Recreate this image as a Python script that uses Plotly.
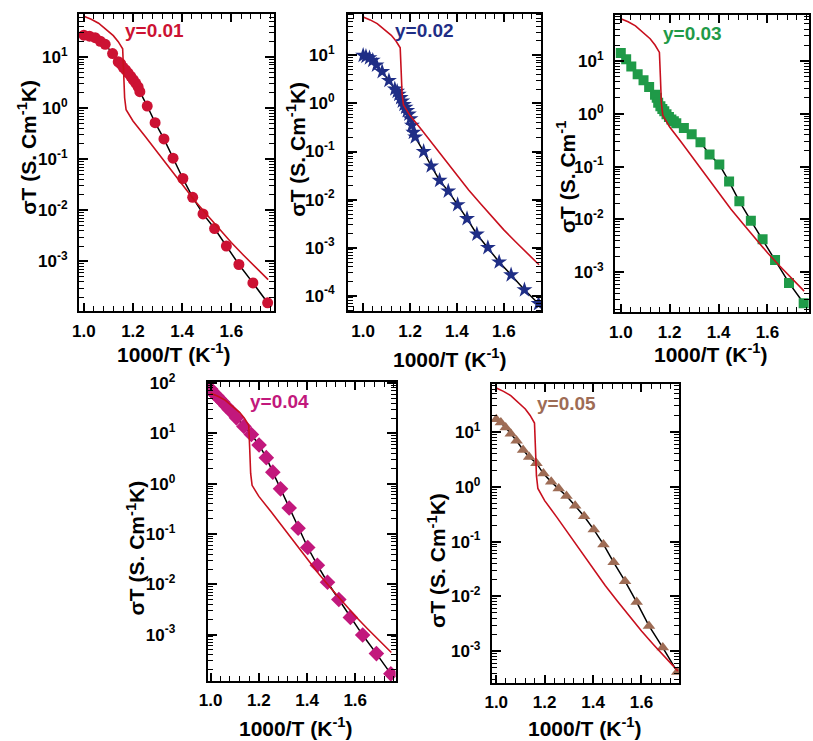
import plotly.graph_objects as go

W, H = 813, 741

# ---------------- data ----------------
# model curve (red) shared by all panels
red_x = [1.000, 1.030, 1.060, 1.090, 1.120, 1.140, 1.158, 1.162, 1.166, 1.172, 1.200, 1.250,
         1.300, 1.350, 1.400, 1.450, 1.500, 1.550, 1.600, 1.650, 1.700, 1.750]
red_y = [63, 55, 46, 35.5, 26.3, 20.0, 14.5, 5.0, 1.6, 0.93, 0.56, 0.28,
         0.135, 0.066, 0.032, 0.0158, 0.0083, 0.0044, 0.00234, 0.00132, 0.00076, 0.00044]

# y = 0.01
x1 = [1.000, 1.023, 1.046, 1.067, 1.087, 1.117, 1.140, 1.150, 1.160, 1.170, 1.180, 1.191, 1.201, 1.211,
      1.221, 1.228, 1.258, 1.290, 1.326, 1.363, 1.403, 1.443, 1.485, 1.532, 1.580, 1.631, 1.688, 1.748]
y1 = [26.9, 25.7, 24.0, 20.4, 17.8, 11.7, 8.1, 7.4, 6.3, 5.6, 4.9, 4.2, 3.6, 3.1,
      2.6, 2.1, 1.10, 0.52, 0.25, 0.105, 0.042, 0.018, 0.0085, 0.0044, 0.0020, 0.00087, 0.00038, 0.000155]

# y = 0.02
x2 = [1.000, 1.012, 1.027, 1.041, 1.057, 1.081, 1.110, 1.135, 1.145, 1.152, 1.160, 1.167, 1.174, 1.181,
      1.188, 1.195, 1.202, 1.208, 1.214, 1.222, 1.258, 1.290, 1.326, 1.363, 1.403, 1.443, 1.485, 1.532,
      1.580, 1.631, 1.688, 1.748]
y2 = [10.0, 9.5, 8.9, 7.9, 6.3, 4.6, 3.0, 2.0, 1.78, 1.55, 1.32, 1.12, 0.95, 0.83,
      0.71, 0.60, 0.48, 0.35, 0.25, 0.20, 0.10, 0.050, 0.025, 0.015, 0.0078, 0.0040, 0.0019, 0.0010,
      0.00050, 0.00027, 0.000132, 0.000068]

# y = 0.03
x3 = [1.000, 1.022, 1.043, 1.069, 1.093, 1.116, 1.140, 1.147, 1.153, 1.162, 1.170, 1.178, 1.187, 1.197,
      1.207, 1.217, 1.227, 1.258, 1.290, 1.326, 1.363, 1.403, 1.443, 1.485, 1.532, 1.580, 1.631, 1.688,
      1.748]
y3 = [14.1, 10.7, 7.8, 5.6, 4.3, 3.2, 2.3, 2.0, 1.62, 1.38, 1.23, 1.12, 0.98, 0.87,
      0.78, 0.72, 0.66, 0.54, 0.41, 0.29, 0.17, 0.11, 0.052, 0.022, 0.0095, 0.0042, 0.0017, 0.00063,
      0.00026]

# y = 0.04
x4 = [1.000, 1.005, 1.014, 1.025, 1.036, 1.050, 1.064, 1.077, 1.091, 1.107, 1.138, 1.169, 1.201,
      1.231, 1.258, 1.290, 1.326, 1.363, 1.403, 1.443, 1.485, 1.532, 1.580, 1.631, 1.688, 1.748]
y4 = [76, 69, 63, 56, 49, 42, 35, 30, 26, 20.4, 13.8, 9.5, 5.9,
      3.3, 1.70, 0.79, 0.33, 0.13, 0.054, 0.024, 0.011, 0.0050, 0.0022, 0.00098, 0.00042, 0.000166]

# y = 0.05
x5 = [1.000, 1.019, 1.039, 1.060, 1.084, 1.111, 1.136, 1.166, 1.195, 1.227, 1.258, 1.290, 1.326,
      1.363, 1.403, 1.443, 1.485, 1.532, 1.580, 1.631, 1.688, 1.748]
y5 = [17.0, 14.8, 12.0, 9.3, 6.9, 4.7, 3.5, 2.7, 1.74, 1.23, 0.93, 0.68, 0.45,
      0.29, 0.166, 0.089, 0.042, 0.019, 0.0079, 0.0029, 0.00117, 0.00042]

labels = ["y=0.01", "y=0.02", "y=0.03", "y=0.04", "y=0.05"]
x_tick_vals = [1.0, 1.2, 1.4, 1.6]
x_tick_text = ["1.0", "1.2", "1.4", "1.6"]
y_tick_exps = [-4, -3, -2, -1, 0, 1, 2]

# ---------------- styling / layout ----------------
FONT = "Liberation Sans, Arial, sans-serif"
colors = ["#CC1233", "#1F2E86", "#1F9A48", "#C2187C", "#9E6C55"]
symbols = ["circle", "star", "square", "diamond", "triangle-up"]
msizes = [11, 12, 10, 12, 11]
red_col = "#C8101E"

# frames in reference pixels: (left, right, top, bottom)
frames = [(70.7, 267.5, 2.7, 305.0),
          (342.7, 538.3, 2.7, 305.0),
          (612.7, 809.0, 4.0, 306.0),
          (201.0, 391.0, 376.7, 680.0),
          (488.3, 678.0, 378.3, 681.7)]
xranges = [[0.980, 1.772], [0.935, 1.760], [0.976, 1.770], [0.988, 1.768], [0.982, 1.757]]
yranges = [[-3.98, 1.85], [-4.33, 1.87], [-3.76, 1.87], [-3.92, 2.02], [-3.57, 1.88]]
ylab_standoff = [6, 8, 6, 27, 6]
lab_pos = [(0.39, 0.943), (0.395, 0.943), (0.40, 0.936), (0.38, 0.934), (0.40, 0.934)]
ytitle_pos = [(18, 138), (290, 140), (563, 168), (128, 545), (432, 558)]
ytitle_txt = ["σT (S. Cm<sup>-1</sup>K)", "σT (S. Cm<sup>-1</sup>K)", "σT (S. Cm<sup>-1</sup>",
              "σT (S. Cm<sup>-1</sup>K)", "σT (S. Cm<sup>-1</sup>K)"]
xtitle_pos = [(166, 347), (445, 352), (709, 347), (290, 727), (582, 727)]


def px_x(p):
    return min(1.0, max(0.0, p / W))


def px_y(p):
    return min(1.0, max(0.0, 1 - p / H))


xs = [x1, x2, x3, x4, x5]
ys = [y1, y2, y3, y4, y5]

fig = go.Figure()
x_minor = [round(0.92 + 0.04 * k, 2) for k in range(25)]
x_minor = [v for v in x_minor if all(abs(v - t) > 1e-6 for t in x_tick_vals)]
y_major = [10.0 ** e for e in y_tick_exps]
y_text = ["10<sup>%d</sup>" % e for e in y_tick_exps]
y_minor = [k * 10.0 ** e for e in range(-5, 3) for k in range(2, 10)]

annotations = []
for i in range(5):
    n = i + 1
    xa = "x" if n == 1 else "x%d" % n
    ya = "y" if n == 1 else "y%d" % n
    # black fit line
    fig.add_trace(go.Scatter(x=xs[i], y=ys[i], mode="lines", line=dict(color="black", width=1.5),
                             xaxis=xa, yaxis=ya, showlegend=False, hoverinfo="skip"))
    # data markers
    fig.add_trace(go.Scatter(x=xs[i], y=ys[i], mode="markers",
                             marker=dict(symbol=symbols[i], size=msizes[i], color=colors[i],
                                         line=dict(width=0)),
                             xaxis=xa, yaxis=ya, showlegend=False))
    # model line
    fig.add_trace(go.Scatter(x=red_x, y=red_y, mode="lines", line=dict(color=red_col, width=1.6),
                             xaxis=xa, yaxis=ya, showlegend=False))

    l, r, t, b = frames[i]
    xdom = [px_x(l), px_x(r)]
    ydom = [px_y(b), px_y(t)]
    axfont = dict(family=FONT, size=17, color="black", weight="bold")
    xkey = "xaxis" if n == 1 else "xaxis%d" % n
    ykey = "yaxis" if n == 1 else "yaxis%d" % n
    fig.update_layout(**{
        xkey: dict(domain=xdom, range=xranges[i], anchor=ya, tickmode="array",
                   tickvals=x_tick_vals, ticktext=x_tick_text, ticks="inside", ticklen=8,
                   tickwidth=1.5, tickcolor="black", showline=True, linecolor="black",
                   linewidth=2, mirror="allticks", showgrid=False, zeroline=False,
                   tickfont=axfont, ticklabelstandoff=3,
                   minor=dict(tickvals=x_minor, ticks="inside", ticklen=5, tickwidth=1.3,
                              tickcolor="black", showgrid=False)),
        ykey: dict(domain=ydom, type="log", range=yranges[i], anchor=xa, tickmode="array",
                   tickvals=y_major, ticktext=y_text, ticks="inside", ticklen=9,
                   tickwidth=1.5, tickcolor="black", showline=True, linecolor="black",
                   linewidth=2, mirror="allticks", showgrid=False, zeroline=False,
                   tickfont=axfont, ticklabelstandoff=ylab_standoff[i],
                   minor=dict(tickvals=y_minor, ticks="inside", ticklen=5, tickwidth=1.3,
                              tickcolor="black", showgrid=False)),
    })
    annotations.append(dict(text="<b>%s</b>" % labels[i], xref="%s domain" % xa,
                            yref="%s domain" % ya, x=lab_pos[i][0], y=lab_pos[i][1],
                            xanchor="center", yanchor="middle", showarrow=False,
                            font=dict(family=FONT, size=19, color=colors[i])))
    px, py = ytitle_pos[i]
    annotations.append(dict(text="<b>%s</b>" % ytitle_txt[i], xref="paper", yref="paper",
                            x=px_x(px), y=px_y(py), xanchor="center", yanchor="middle",
                            textangle=-90, showarrow=False,
                            font=dict(family=FONT, size=21, color="black")))
    px, py = xtitle_pos[i]
    annotations.append(dict(text="<b>1000/T (K<sup>-1</sup>)</b>", xref="paper", yref="paper",
                            x=px_x(px), y=px_y(py), xanchor="center", yanchor="middle",
                            showarrow=False, font=dict(family=FONT, size=21, color="black")))

fig.update_layout(width=W, height=H, margin=dict(l=0, r=0, t=0, b=0),
                  paper_bgcolor="white", plot_bgcolor="white", annotations=annotations,
                  showlegend=False)

# remove the default page margin so the figure sits at the window's top-left corner
fig.write_html("out.html", config={"displayModeBar": False},
               post_script="document.body.style.margin='0px';document.body.style.overflow='hidden';")
